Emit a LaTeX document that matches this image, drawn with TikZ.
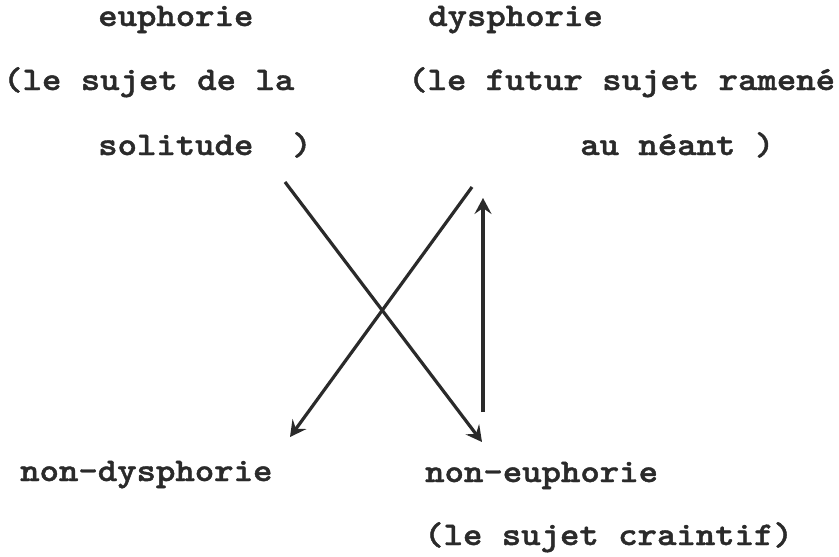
\documentclass[tikz,border=0pt]{standalone}
\usepackage{fontspec}
\usepackage{graphicx}
\usetikzlibrary{arrows.meta}
\newfontfamily\twfont{lmmonolt10-bold.otf}[FakeBold=1.2]
\definecolor{ink}{HTML}{2a2a2a}
\newcommand{\tw}[1]{\scalebox{1.12}[1]{\fontsize{33}{38}\selectfont\twfont #1}}
\begin{document}
\begin{tikzpicture}[x=1pt,y=-1pt,
  lbl/.style={anchor=base west,inner sep=0pt,text=ink},
  arr/.style={draw=ink,line width=3.2pt,
    -{Stealth[length=16pt,width=17pt,inset=6pt]}}]
\useasboundingbox[fill=white] (0,0) rectangle (839,557);
% top left column
\node[lbl] (eu)   at (98,26)  {\tw{euphorie}};
\node[lbl] (eu2)  at (3,90)   {\tw{(le sujet de la}};
\node[lbl] (eu3)  at (98,155) {\tw{solitude}};
\node[lbl] (eu3p) at (292,155) {\tw{)}};
% top right column
\node[lbl] (dy)   at (428,26)  {\tw{dysphorie}};
\node[lbl] (dy2)  at (408,90)  {\tw{(le futur sujet ramené}};
\node[lbl] (dy3)  at (580,155) {\tw{au néant )}};
% bottom
\node[lbl] (ndy)  at (20,481)  {\tw{non-dysphorie}};
\node[lbl] (neu)  at (425,482) {\tw{non-euphorie}};
\node[lbl] (neu2) at (424,545) {\tw{(le sujet craintif)}};
% arrow end points
\coordinate (a1s) at (285,182);
\coordinate (a1e) at (482,442);
\coordinate (a2s) at (472,187);
\coordinate (a2e) at (290,437);
\coordinate (a3s) at (483,412);
\coordinate (a3e) at (483,198);
\draw[arr] (a1s) -- (a1e);
\draw[arr] (a2s) -- (a2e);
\draw[arr] (a3s) -- (a3e);
\end{tikzpicture}
\end{document}
